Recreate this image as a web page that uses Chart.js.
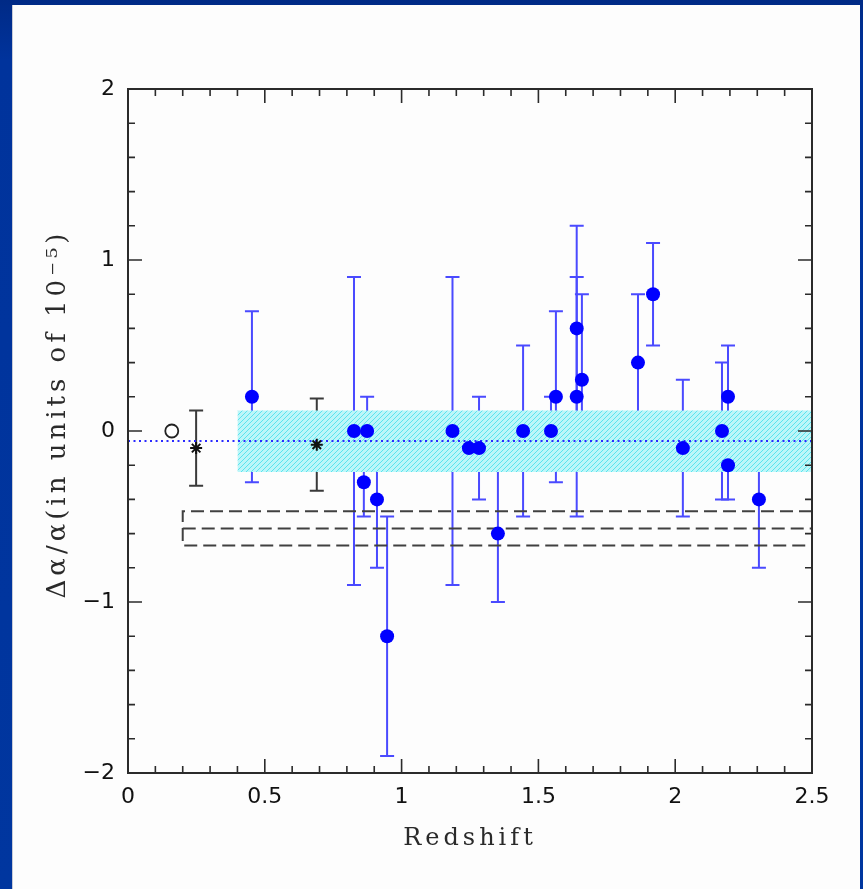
<!DOCTYPE html>
<html><head><meta charset="utf-8">
<script src="https://cdn.jsdelivr.net/npm/chart.js@4.4.0/dist/chart.umd.min.js"></script>
<style>
html,body{margin:0;padding:0;width:863px;height:889px;overflow:hidden;}
body{background:linear-gradient(180deg,#002a86 0px,#00339c 60px,#00369f 100%);position:relative;}
#panel{position:absolute;left:13px;top:5px;width:847px;height:884px;background:#fdfdfd;box-shadow:-1px 0 0 #c8cbd6;}
canvas{display:block;}
</style></head>
<body>
<div id="panel"><canvas id="c" width="847" height="884"></canvas></div>
<script>
// ---- data ----
const blueZ   = [0.453,0.826,0.862,0.874,0.910,0.947,1.186,1.246,1.283,1.352,1.444,1.546,1.564,1.640,1.640,1.659,1.864,1.919,2.028,2.171,2.193,2.193,2.306];
const blueDA  = [0.2,0.0,-0.3,0.0,-0.4,-1.2,0.0,-0.1,-0.1,-0.6,0.0,0.0,0.2,0.2,0.6,0.3,0.4,0.8,-0.1,0.0,0.2,-0.2,-0.4];
const blueErr = [0.5,0.9,0.2,0.2,0.4,0.7,0.9,0.1,0.3,0.4,0.5,0.2,0.5,0.7,0.6,0.5,0.4,0.3,0.4,0.4,0.3,0.2,0.4];
const starZ   = [0.249,0.690];
const starDA  = [-0.10,-0.08];
const starErr = [0.22,0.27];
const circleZ = [0.16];
const circleDA= [0.0];
const bandZ   = [0.40,2.50];
const bandTop = 0.12;
const bandBottom = -0.24;
const meanZ   = [0.0,2.5];
const meanDA  = -0.058;
const dashZ   = [0.2,2.5];
const dashDA  = [-0.47,-0.57,-0.67];
const xTicks  = [0,0.5,1,1.5,2,2.5];
const yTicks  = [-2,-1,0,1,2];
const xMinorStep = 0.1, yMinorStep = 0.2;
const xTitle = 'Redshift';
const yTitle = 'Δα/α(in units of 10⁻⁵)';

// hatched cyan pattern
const pc = document.createElement('canvas'); pc.width = 5; pc.height = 5;
const pctx = pc.getContext('2d');
pctx.fillStyle = '#bcf6f9'; pctx.fillRect(0,0,5,5);
pctx.strokeStyle = '#5ae4ee'; pctx.lineWidth = 1;
pctx.beginPath();
pctx.moveTo(-1,6); pctx.lineTo(6,-1);
pctx.moveTo(-3,3); pctx.lineTo(3,-3);
pctx.moveTo(2,8); pctx.lineTo(8,2);
pctx.stroke();
const hatch = pctx.createPattern(pc,'repeat');

const pts = (xs, ys) => xs.map((v,i)=>({x:v, y:Array.isArray(ys)?ys[i]:ys}));

const errorBars = {
  id:'errorBars',
  beforeDatasetsDraw(chart){
    const {ctx, scales:{x,y}} = chart;
    const draw = (xs, ys, es, color) => {
      ctx.save();
      ctx.strokeStyle = color; ctx.lineWidth = 2;
      xs.forEach((z,i)=>{
        const px = x.getPixelForValue(z);
        const t = y.getPixelForValue(ys[i]+es[i]);
        const b = y.getPixelForValue(ys[i]-es[i]);
        ctx.beginPath();
        ctx.moveTo(px,t); ctx.lineTo(px,b);
        ctx.moveTo(px-7,t); ctx.lineTo(px+7,t);
        ctx.moveTo(px-7,b); ctx.lineTo(px+7,b);
        ctx.stroke();
      });
      ctx.restore();
    };
    draw(starZ, starDA, starErr, '#3a3a3a');
    draw(blueZ, blueDA, blueErr, '#4a4aff');
  }
};

const frameTicks = {
  id:'frameTicks',
  afterDatasetsDraw(chart){
    const {ctx, chartArea:a, scales:{x,y}} = chart;
    ctx.save();
    ctx.strokeStyle = '#2b2b2b';
    ctx.lineWidth = 1.6;
    ctx.beginPath();
    const nx = Math.round((x.max-x.min)/xMinorStep);
    for (let i=0;i<=nx;i++){
      const v = x.min + i*xMinorStep;
      const px = x.getPixelForValue(v);
      const L = (i%5===0)?14:7;
      ctx.moveTo(px,a.bottom); ctx.lineTo(px,a.bottom-L);
      ctx.moveTo(px,a.top); ctx.lineTo(px,a.top+L);
    }
    const ny = Math.round((y.max-y.min)/yMinorStep);
    for (let i=0;i<=ny;i++){
      const v = y.min + i*yMinorStep;
      const py = y.getPixelForValue(v);
      const L = (i%5===0)?14:7;
      ctx.moveTo(a.left,py); ctx.lineTo(a.left+L,py);
      ctx.moveTo(a.right,py); ctx.lineTo(a.right-L,py);
    }
    ctx.stroke();
    ctx.lineWidth = 2;
    ctx.strokeRect(a.left,a.top,a.right-a.left,a.bottom-a.top);
    ctx.restore();
  }
};

const titleSpacing = {
  id:'titleSpacing',
  afterLayout(chart){
    const wrap = (sc, spacing, dy) => {
      if (sc._wrapped) return;
      const orig = sc.drawTitle;
      sc.drawTitle = function(){
        const c = this.ctx; c.save();
        c.letterSpacing = spacing;
        c.translate(0, dy);
        orig.apply(this, arguments);
        c.restore();
      };
      sc._wrapped = true;
    };
    wrap(chart.scales.x, '4px', 0);
    wrap(chart.scales.y, '4px', -17);
  }
};

const numFmt = v => (v<0 ? '\u2212'+Math.abs(v) : String(v));

new Chart(document.getElementById('c'), {
  type:'scatter',
  data:{datasets:[
    {type:'line', data:pts(bandZ, bandTop), fill:'+1', backgroundColor:hatch, borderWidth:0, pointRadius:0, order:10},
    {type:'line', data:pts(bandZ, bandBottom), fill:false, borderWidth:0, pointRadius:0, order:10},
    {type:'line', data:pts(meanZ, meanDA), borderColor:'#2a2aff', borderWidth:2, borderDash:[2,3.5], pointRadius:0, fill:false, order:9},
    {type:'line', data:[{x:dashZ[1],y:dashDA[0]},{x:dashZ[0],y:dashDA[0]},{x:dashZ[0],y:dashDA[2]},{x:dashZ[1],y:dashDA[2]}], borderColor:'#404040', borderWidth:2, borderDash:[13,6], pointRadius:0, fill:false, tension:0, order:8},
    {type:'line', data:pts(dashZ, dashDA[1]), borderColor:'#404040', borderWidth:2, borderDash:[13,6], pointRadius:0, fill:false, order:8},
    {label:'blue', data:pts(blueZ, blueDA), pointRadius:7, pointStyle:'circle', backgroundColor:'#0000ff', borderColor:'#0000ff', borderWidth:0, order:1},
    {label:'star', data:pts(starZ, starDA), pointRadius:6, pointStyle:'star', backgroundColor:'#111', borderColor:'#111', borderWidth:2, order:2},
    {label:'circle', data:pts(circleZ, circleDA), pointRadius:6.5, pointStyle:'circle', backgroundColor:'#fff', borderColor:'#222', borderWidth:1.8, order:2}
  ]},
  options:{
    responsive:false, animation:false, devicePixelRatio:1,
    layout:{padding:{left:0, top:84, right:48, bottom:0}},
    plugins:{legend:{display:false}, tooltip:{enabled:false}},
    scales:{
      x:{type:'linear', min:0, max:2.5,
        afterFit(s){ s.height = 116; },
        afterBuildTicks(s){ s.ticks = xTicks.map(v=>({value:v})); },
        grid:{display:false, drawTicks:false}, border:{display:false},
        ticks:{padding:11, color:'#111', font:{family:"'DejaVu Sans', sans-serif", size:22}, maxRotation:0, autoSkip:false, callback:numFmt},
        title:{display:true, text:xTitle, color:'#2a2a2a', font:{family:"'DejaVu Serif', serif", size:24}, padding:{top:0,bottom:36}}
      },
      y:{type:'linear', min:-2, max:2,
        afterFit(s){ s.width = 115; },
        afterBuildTicks(s){ s.ticks = yTicks.map(v=>({value:v})); },
        grid:{display:false, drawTicks:false}, border:{display:false},
        ticks:{padding:13, color:'#111', font:{family:"'DejaVu Sans', sans-serif", size:22}, callback:numFmt, autoSkip:false},
        title:{display:true, text:yTitle, color:'#2a2a2a', font:{family:"'DejaVu Serif', serif", size:26}, padding:{top:30,bottom:0}}
      }
    }
  },
  plugins:[errorBars, frameTicks, titleSpacing]
});
</script>
</body></html>
